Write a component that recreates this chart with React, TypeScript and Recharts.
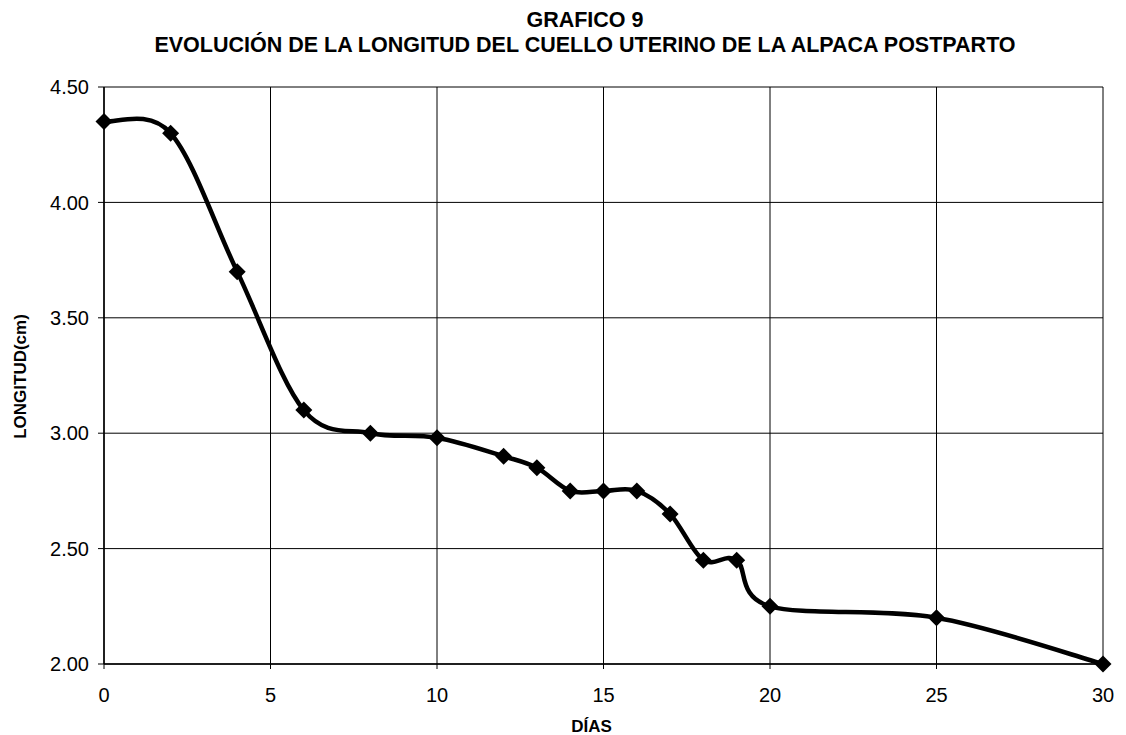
import React from 'react';
import { LineChart, Line, XAxis, YAxis, CartesianGrid } from 'recharts';

const days = [0, 2, 4, 6, 8, 10, 12, 13, 14, 15, 16, 17, 18, 19, 20, 25, 30];
const longitud = [4.35, 4.3, 3.7, 3.1, 3.0, 2.98, 2.9, 2.85, 2.75, 2.75, 2.75, 2.65, 2.45, 2.45, 2.25, 2.2, 2.0];
const xTicks = [0, 5, 10, 15, 20, 25, 30];
const yTicks = [2.0, 2.5, 3.0, 3.5, 4.0, 4.5];

const data = days.map((d, i) => ({ dia: d, longitud: longitud[i] }));

const FONT = '"Liberation Sans", Arial, Helvetica, sans-serif';

// Excel-like smoothed line (Catmull-Rom through the points)
function excelSmooth(context: any) {
  let pts: number[][] = [];
  return {
    areaStart() {},
    areaEnd() {},
    lineStart() {
      pts = [];
    },
    lineEnd() {
      const n = pts.length;
      if (!n) return;
      context.moveTo(pts[0][0], pts[0][1]);
      for (let i = 0; i < n - 1; i++) {
        const p0 = pts[i - 1] || pts[i];
        const p1 = pts[i];
        const p2 = pts[i + 1];
        const p3 = pts[i + 2] || pts[i + 1];
        context.bezierCurveTo(
          p1[0] + (p2[0] - p0[0]) / 6,
          p1[1] + (p2[1] - p0[1]) / 6,
          p2[0] - (p3[0] - p1[0]) / 6,
          p2[1] - (p3[1] - p1[1]) / 6,
          p2[0],
          p2[1]
        );
      }
    },
    point(x: number, y: number) {
      pts.push([+x, +y]);
    },
  };
}

const Diamond = (props: any) => {
  const { cx, cy, index } = props;
  if (cx == null || cy == null) return null;
  const r = 8.5;
  return (
    <polygon
      key={`d-${index}`}
      points={`${cx},${cy - r} ${cx + r},${cy} ${cx},${cy + r} ${cx - r},${cy}`}
      fill="#000"
    />
  );
};

const YLabel = (props: any) => {
  const vb = props.viewBox || {};
  const x = vb.x - 24;
  const y = vb.y + vb.height / 2 + 1;
  return (
    <text
      x={x}
      y={y}
      transform={`rotate(-90, ${x}, ${y})`}
      textAnchor="middle"
      dominantBaseline="central"
      fontFamily={FONT}
      fontWeight="bold"
      fontSize={17}
      fill="#000"
    >
      LONGITUD(cm)
    </text>
  );
};

const XLabel = (props: any) => {
  const vb = props.viewBox || {};
  const x = vb.x + vb.width / 2 - 12;
  const y = vb.y + vb.height;
  return (
    <text
      x={x}
      y={y}
      textAnchor="middle"
      fontFamily={FONT}
      fontWeight="bold"
      fontSize={17}
      fill="#000"
    >
      DÍAS
    </text>
  );
};

export default function App() {
  return (
    <div style={{ position: 'absolute', left: 0, top: 0, width: 1126, height: 735, background: '#fff' }}>
      <div
        style={{
          position: 'absolute',
          left: 0,
          width: 1170,
          top: 8,
          textAlign: 'center',
          fontFamily: FONT,
          fontWeight: 'bold',
          fontSize: 21.5,
          lineHeight: '25px',
          color: '#000',
          whiteSpace: 'nowrap',
        }}
      >
        <div>GRAFICO 9</div>
        <div>EVOLUCIÓN DE LA LONGITUD DEL CUELLO UTERINO DE LA ALPACA POSTPARTO</div>
      </div>
      <LineChart
        width={1126}
        height={735}
        data={data}
        margin={{ top: 87, right: 23, left: 44, bottom: 3 }}
      >
        <CartesianGrid stroke="#000" strokeWidth={1} />
        <XAxis
          dataKey="dia"
          type="number"
          domain={[0, 30]}
          ticks={xTicks}
          allowDecimals={false}
          height={68}
          tickSize={5}
          tickMargin={19}
          axisLine={{ stroke: '#000', strokeWidth: 1.5 }}
          tickLine={{ stroke: '#000' }}
          tick={{ fill: '#000', fontFamily: FONT, fontSize: 20 }}
          label={{ content: XLabel }}
        />
        <YAxis
          type="number"
          domain={[2, 4.5]}
          ticks={yTicks}
          width={60}
          tickSize={6}
          tickMargin={9}
          tickFormatter={(v: number) => v.toFixed(2)}
          axisLine={{ stroke: '#000', strokeWidth: 1.5 }}
          tickLine={{ stroke: '#000' }}
          tick={{ fill: '#000', fontFamily: FONT, fontSize: 20 }}
          label={{ content: YLabel }}
        />
        <Line
          type={excelSmooth as any}
          dataKey="longitud"
          stroke="#000"
          strokeWidth={4.5}
          dot={Diamond}
          activeDot={false}
          isAnimationActive={false}
        />
      </LineChart>
    </div>
  );
}
